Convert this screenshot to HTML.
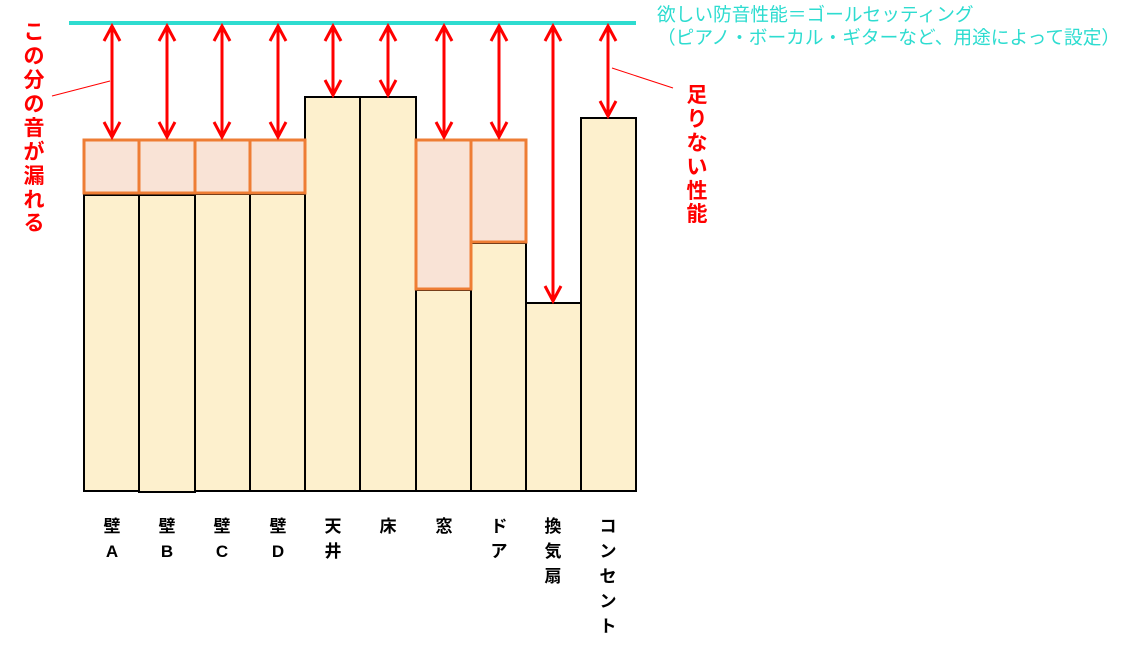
<!DOCTYPE html>
<html><head><meta charset="utf-8"><style>
html,body{margin:0;padding:0;background:#fff;}
svg{display:block;}
text{font-family:"Liberation Sans","Noto Sans CJK JP",sans-serif;}
</style></head><body>
<svg width="1122" height="656" viewBox="0 0 1122 656" xmlns="http://www.w3.org/2000/svg">
<line x1="69" y1="23" x2="636" y2="23" stroke="#2edcd0" stroke-width="4"/>
<g fill="#fdf0cd" stroke="#000" stroke-width="2">
<rect x="84" y="195" width="55" height="296"/>
<rect x="139" y="195" width="56" height="297"/>
<rect x="195" y="194" width="55" height="297"/>
<rect x="250" y="194" width="55" height="297"/>
<rect x="305" y="97" width="55" height="394"/>
<rect x="360" y="97" width="56" height="394"/>
<rect x="416" y="290" width="55" height="201"/>
<rect x="471" y="243" width="55" height="248"/>
<rect x="526" y="303" width="55" height="188"/>
<rect x="581" y="118" width="55" height="373"/>
</g>
<g fill="#f9e3d6" stroke="#ee7d34" stroke-width="3">
<rect x="84" y="140" width="55" height="53"/>
<rect x="139" y="140" width="56" height="53"/>
<rect x="195" y="140" width="55" height="53"/>
<rect x="250" y="140" width="55" height="53"/>
<rect x="416" y="140" width="55" height="149"/>
<rect x="471" y="140" width="55" height="102"/>
</g>
<g fill="none" stroke="#ff0000" stroke-width="3">
<path d="M112 26V137M104 41L112 26L120 41M104 122L112 137L120 122"/>
<path d="M167 26V137M159 41L167 26L175 41M159 122L167 137L175 122"/>
<path d="M222 26V137M214 41L222 26L230 41M214 122L222 137L230 122"/>
<path d="M278 26V137M270 41L278 26L286 41M270 122L278 137L286 122"/>
<path d="M333 26V95M325 41L333 26L341 41M325 80L333 95L341 80"/>
<path d="M388 26V95M380 41L388 26L396 41M380 80L388 95L396 80"/>
<path d="M444 26V137M436 41L444 26L452 41M436 122L444 137L452 122"/>
<path d="M499 26V137M491 41L499 26L507 41M491 122L499 137L507 122"/>
<path d="M553 26V301M545 41L553 26L561 41M545 286L553 301L561 286"/>
<path d="M608 26V116M600 41L608 26L616 41M600 101L608 116L616 101"/>
</g>
<g stroke="#ff0000" stroke-width="1">
<line x1="52" y1="96" x2="110" y2="81"/>
<line x1="612" y1="68" x2="673" y2="88"/>
</g>
<g fill="#ff0000" font-size="21" font-weight="bold" text-anchor="middle">
<text x="34" y="39">こ</text><text x="34" y="63">の</text><text x="34" y="87">分</text><text x="34" y="111">の</text><text x="34" y="135">音</text><text x="34" y="159">が</text><text x="34" y="183">漏</text><text x="34" y="207">れ</text><text x="34" y="230">る</text>
<text x="697" y="102">足</text><text x="697" y="126">り</text><text x="697" y="150">な</text><text x="697" y="174">い</text><text x="697" y="198">性</text><text x="697" y="221">能</text>
</g>
<g fill="#2edcd0" font-size="18.7">
<text x="657" y="21">欲しい防音性能＝ゴールセッティング</text>
<text x="657" y="44">（ピアノ・ボーカル・ギターなど、用途によって設定）</text>
</g>
<g fill="#000" font-size="17" font-weight="bold" text-anchor="middle">
<text x="112" y="532">壁</text><text x="112" y="557">A</text>
<text x="167" y="532">壁</text><text x="167" y="557">B</text>
<text x="222" y="532">壁</text><text x="222" y="557">C</text>
<text x="278" y="532">壁</text><text x="278" y="557">D</text>
<text x="333" y="532">天</text><text x="333" y="557">井</text>
<text x="388" y="532">床</text>
<text x="444" y="532">窓</text>
<text x="499" y="532">ド</text><text x="499" y="557">ア</text>
<text x="553" y="532">換</text><text x="553" y="557">気</text><text x="553" y="582">扇</text>
<text x="608" y="532">コ</text><text x="608" y="557">ン</text><text x="608" y="582">セ</text><text x="608" y="607">ン</text><text x="608" y="632">ト</text>
</g>
</svg>
</body></html>
